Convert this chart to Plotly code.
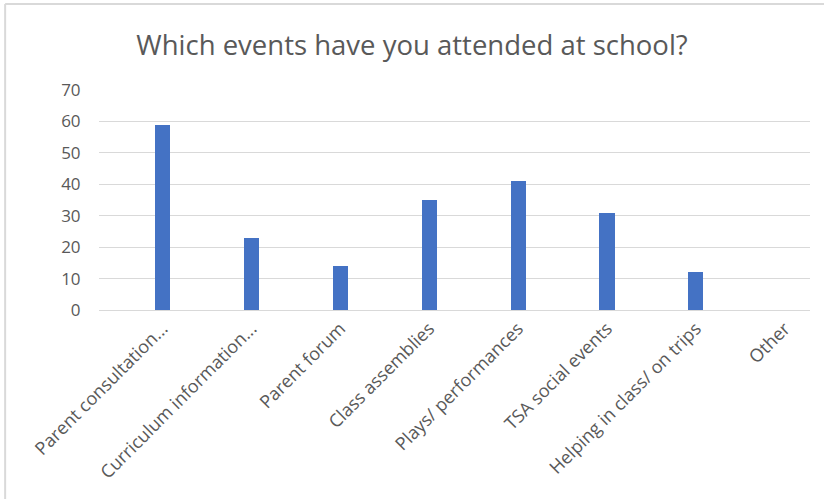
import plotly.graph_objects as go

# survey answers
events = ["Parent consultation...", "Curriculum information...", "Parent forum",
          "Class assemblies", "Plays/ performances", "TSA social events",
          "Helping in class/ on trips", "Other"]
attended = [59, 23, 14, 35, 41, 31, 12, 0]
y_ticks = [0, 10, 20, 30, 40, 50, 60, 70]

grey = "#595959"

fig = go.Figure(go.Bar(
    x=events,
    y=attended,
    marker=dict(color="#4472C4", line=dict(width=0)),
    width=0.17,
))

fig.update_layout(
    width=824, height=499,
    margin=dict(l=99, r=14, t=90, b=189),
    paper_bgcolor="white", plot_bgcolor="white",
    font=dict(family="Open Sans", color=grey),
    title=dict(text="Which events have you attended at school?",
               x=0.5, xanchor="center", y=0.91, yanchor="middle",
               font=dict(size=27.5, color=grey)),
    showlegend=False,
    bargap=0,
)

fig.update_xaxes(
    range=[-0.714, 7.284],
    tickangle=-45,
    tickfont=dict(size=18, color=grey),
    showgrid=False,
    showline=True, linecolor="#d9d9d9", linewidth=1,
    ticks="",
)
fig.update_yaxes(
    range=[0, 70],
    tickvals=y_ticks,
    tickfont=dict(size=17, color=grey),
    showgrid=True, gridcolor="#d9d9d9", gridwidth=1,
    zeroline=False, showline=False,
    ticks="outside", ticklen=14, tickcolor="rgba(0,0,0,0)",
)

# chart frame (top and left edges visible in the reference)
fig.add_shape(type="line", xref="paper", yref="paper",
              x0=-0.132, x1=1.03, y0=1.391, y1=1.391,
              line=dict(color="#d9d9d9", width=2))
fig.add_shape(type="line", xref="paper", yref="paper",
              x0=-0.132, x1=-0.132, y0=-0.9, y1=1.391,
              line=dict(color="#d9d9d9", width=2))

fig.write_html("out.html", config={"displayModeBar": False},
               post_script="document.body.style.margin='0';")
